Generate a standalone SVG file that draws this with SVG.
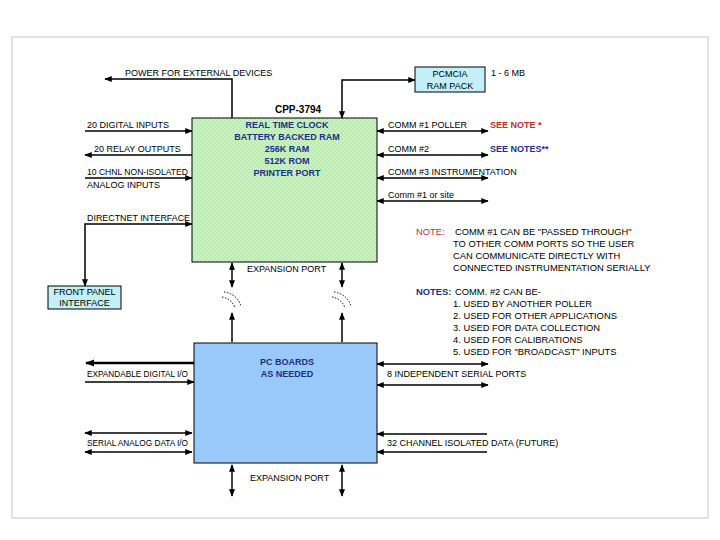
<svg xmlns="http://www.w3.org/2000/svg" width="720" height="540" viewBox="0 0 720 540">
<defs>
<style>
text{font-family:"Liberation Sans",Arial,sans-serif;font-size:9px;fill:#000}
.b{font-weight:bold;fill:#1c2f8a;font-size:9px}
.t{font-weight:bold;font-size:10px}
.red{fill:#c0302e;font-weight:bold}
.navy{fill:#1c2f8a;font-weight:bold}
.nt{font-size:9.4px}
.ln{stroke:#000;stroke-width:1.5;fill:none}
.th{stroke:#000;stroke-width:2.5;fill:none}
.box{stroke:#000;stroke-width:1}
.dash{stroke:#000;stroke-width:1;fill:none;stroke-dasharray:1.5 1.5}
</style>
<marker id="ah" viewBox="0 0 10 10" refX="9" refY="5" markerWidth="5" markerHeight="5" orient="auto-start-reverse"><path d="M0,1 L10,5 L0,9 z" fill="#000"/></marker>
<marker id="ahb" viewBox="0 0 10 10" refX="9" refY="5" markerUnits="userSpaceOnUse" markerWidth="9" markerHeight="9" orient="auto-start-reverse"><path d="M0,1 L10,5 L0,9 z" fill="#000"/></marker>
<pattern id="gp" width="4" height="4" patternUnits="userSpaceOnUse"><rect width="4" height="4" fill="#c9f3c0"/><rect x="0" y="0" width="2" height="2" fill="#bde9b3"/><rect x="2" y="2" width="2" height="2" fill="#bde9b3"/></pattern>
</defs>
<rect x="0" y="0" width="720" height="540" fill="#fff"/>
<rect x="12" y="37" width="696" height="481" fill="none" stroke="#c8c8c8" stroke-width="1"/>

<g id="connectors">
<path class="ln" d="M232,118 V79 H105" marker-end="url(#ah)"/>
<path class="ln" d="M342,118 V80 H415" marker-start="url(#ah)" marker-end="url(#ah)"/>
<path class="ln" d="M85,131 H192" marker-end="url(#ah)"/>
<path class="ln" d="M192,155 H85" marker-end="url(#ah)"/>
<path class="ln" d="M85,178 H192" marker-end="url(#ah)"/>
<path class="ln" d="M192,224 H85 V286" marker-start="url(#ah)" marker-end="url(#ah)"/>
<path class="ln" d="M377,131 H488" marker-start="url(#ah)" marker-end="url(#ah)"/>
<path class="ln" d="M377,155 H488" marker-start="url(#ah)" marker-end="url(#ah)"/>
<path class="ln" d="M377,178 H488" marker-start="url(#ah)" marker-end="url(#ah)"/>
<path class="ln" d="M377,201 H488" marker-start="url(#ah)" marker-end="url(#ah)"/>
<path class="ln" d="M232,263 V287" marker-start="url(#ah)" marker-end="url(#ah)"/>
<path class="ln" d="M342,263 V287" marker-start="url(#ah)" marker-end="url(#ah)"/>
<path class="ln" d="M232,313 V342" marker-start="url(#ah)"/>
<path class="ln" d="M342,313 V342" marker-start="url(#ah)"/>
<path class="dash" d="M222,297 A16,16 0 0 1 235,308"/>
<path class="dash" d="M224,292 A20,20 0 0 1 241,306"/>
<path class="dash" d="M332,297 A16,16 0 0 1 345,308"/>
<path class="dash" d="M334,292 A20,20 0 0 1 351,306"/>
<path class="th" d="M194,363 H86" marker-end="url(#ahb)"/>
<path class="ln" d="M85,382 H194" marker-end="url(#ah)"/>
<path class="ln" d="M377,364 H488" marker-start="url(#ah)" marker-end="url(#ah)"/>
<path class="ln" d="M377,385 H488" marker-start="url(#ah)" marker-end="url(#ah)"/>
<path class="ln" d="M85,433 H192" marker-start="url(#ah)" marker-end="url(#ah)"/>
<path class="ln" d="M85,452 H192" marker-start="url(#ah)" marker-end="url(#ah)"/>
<path class="ln" d="M487,434 H377" marker-end="url(#ah)"/>
<path class="ln" d="M487,452 H377" marker-end="url(#ah)"/>
<path class="ln" d="M232,465 V496" marker-start="url(#ah)" marker-end="url(#ah)"/>
<path class="ln" d="M342,465 V496" marker-start="url(#ah)" marker-end="url(#ah)"/>
</g>

<g id="cpp3794">
<rect class="box" x="192" y="118" width="185" height="144" fill="url(#gp)"/>
<text class="t" x="298" y="113" text-anchor="middle">CPP-3794</text>
<text class="b" x="287" y="128" text-anchor="middle">REAL TIME CLOCK</text>
<text class="b" x="287" y="140" text-anchor="middle">BATTERY BACKED RAM</text>
<text class="b" x="287" y="152" text-anchor="middle">256K RAM</text>
<text class="b" x="287" y="164" text-anchor="middle">512K ROM</text>
<text class="b" x="287" y="176" text-anchor="middle">PRINTER PORT</text>
</g>

<g id="pcboards">
<rect class="box" x="194" y="343" width="183" height="120" fill="#99c9f9"/>
<text class="b" x="287" y="365" text-anchor="middle">PC BOARDS</text>
<text class="b" x="287" y="377" text-anchor="middle">AS NEEDED</text>
</g>

<g id="pcmcia">
<rect class="box" x="415" y="67" width="70" height="25" fill="#c3eff8"/>
<text x="450" y="77" text-anchor="middle">PCMCIA</text>
<text x="450" y="89" text-anchor="middle">RAM PACK</text>
</g>

<g id="front-panel">
<rect class="box" x="48" y="286" width="73" height="23" fill="#c3eff8"/>
<text x="84.5" y="295" text-anchor="middle">FRONT PANEL</text>
<text x="84.5" y="306" text-anchor="middle">INTERFACE</text>
</g>

<g id="labels">
<text x="125" y="76">POWER FOR EXTERNAL DEVICES</text>
<text x="491" y="76">1 - 6 MB</text>
<text x="87" y="128">20 DIGITAL INPUTS</text>
<text x="94" y="152">20 RELAY OUTPUTS</text>
<text x="87" y="175" textLength="101" lengthAdjust="spacingAndGlyphs">10 CHNL NON-ISOLATED</text>
<text x="87" y="188">ANALOG INPUTS</text>
<text x="87" y="221" textLength="103" lengthAdjust="spacingAndGlyphs">DIRECTNET INTERFACE</text>
<text x="388" y="128">COMM #1 POLLER</text>
<text x="388" y="152">COMM #2</text>
<text x="388" y="175">COMM #3 INSTRUMENTATION</text>
<text x="388" y="198">Comm #1 or site</text>
<text class="red" x="490" y="128">SEE NOTE *</text>
<text class="navy" x="490" y="152">SEE NOTES**</text>
<text x="247" y="272">EXPANSION PORT</text>
<text x="87" y="377" textLength="101" lengthAdjust="spacingAndGlyphs">EXPANDABLE DIGITAL I/O</text>
<text x="387" y="377">8 INDEPENDENT SERIAL PORTS</text>
<text x="87" y="446" textLength="101" lengthAdjust="spacingAndGlyphs">SERIAL ANALOG DATA I/O</text>
<text x="387" y="446">32 CHANNEL ISOLATED DATA (FUTURE)</text>
<text x="250" y="481">EXPANSION PORT</text>
<text class="nt" x="416" y="235" style="fill:#c0302e">NOTE:</text>
<text class="nt" x="455" y="235">COMM #1 CAN BE "PASSED THROUGH"</text>
<text class="nt" x="453" y="247">TO OTHER COMM PORTS SO THE USER</text>
<text class="nt" x="453" y="259">CAN COMMUNICATE DIRECTLY WITH</text>
<text class="nt" x="453" y="271">CONNECTED INSTRUMENTATION SERIALLY</text>
<text class="nt" x="416" y="295" style="fill:#1c2f8a;font-weight:bold">NOTES:</text>
<text class="nt" x="455" y="295">COMM. #2 CAN BE-</text>
<text class="nt" x="453" y="307">1. USED BY ANOTHER POLLER</text>
<text class="nt" x="453" y="319">2. USED FOR OTHER APPLICATIONS</text>
<text class="nt" x="453" y="331">3. USED FOR DATA COLLECTION</text>
<text class="nt" x="453" y="343">4. USED FOR CALIBRATIONS</text>
<text class="nt" x="453" y="355">5. USED FOR "BROADCAST" INPUTS</text>
</g>
</svg>
